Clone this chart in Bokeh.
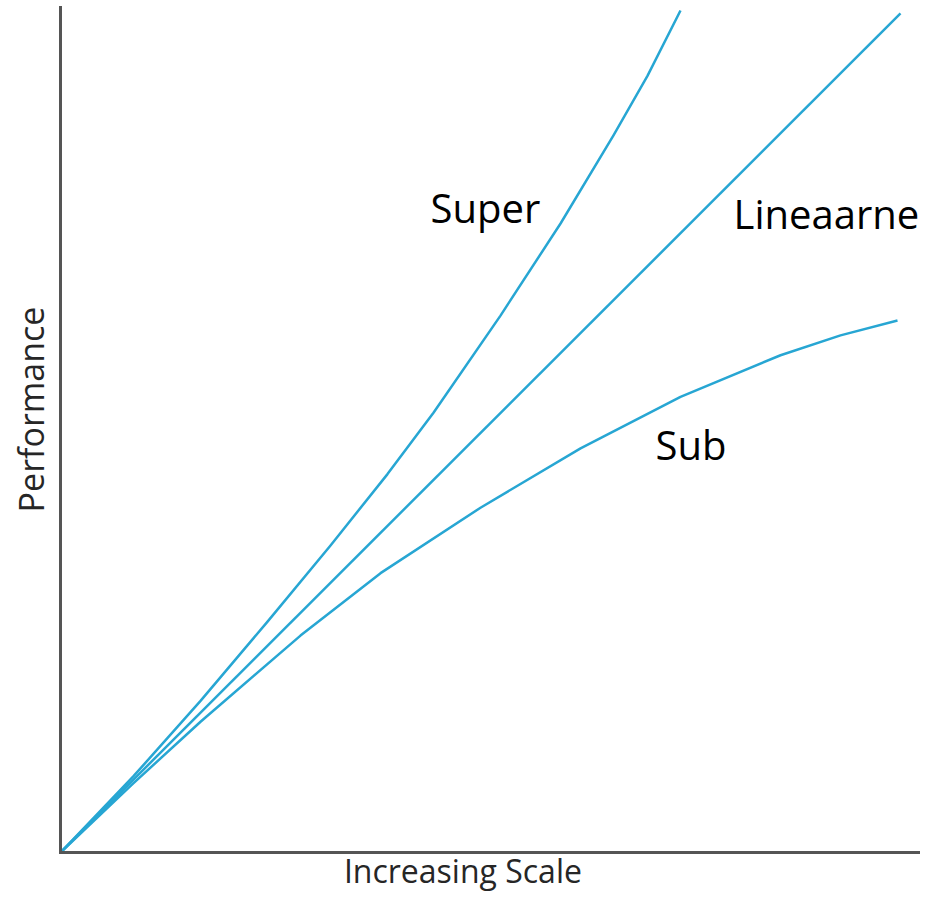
import math
from bokeh.plotting import figure
from bokeh.models import Range1d, Label, FixedTicker
from bokeh.embed import file_html
from bokeh.resources import INLINE

# ---- data ----
linear_x = [0, 97.9]
linear_y = [0, 99.3]

super_x = [0, 8.51, 16.32, 24.13, 31.47, 38.11, 43.47, 51.28, 58.28, 64.45, 68.41, 72.26]
super_y = [0, 9.03, 17.94, 27.32, 36.34, 44.78, 52.05, 63.54, 74.44, 84.88, 91.91, 99.65]

sub_x = [0, 8.51, 16.32, 27.97, 37.30, 48.95, 60.61, 72.26, 83.92, 90.91, 97.55]
sub_y = [0, 8.21, 15.47, 25.67, 33.06, 40.80, 47.83, 53.93, 58.85, 61.20, 62.95]

curve_names = ["Super", "Lineaarne", "Sub"]
x_title = "Increasing Scale"
y_title = "Performance"

LINE_COLOR = "#27A6D3"
AXIS_COLOR = "#555555"
FONT = "Open Sans"

# frame fills the canvas; the axes are pinned at the data origin
p = figure(width=929, height=892, output_backend="svg", toolbar_location=None,
           x_range=Range1d(-6.993, 101.28), y_range=Range1d(-4.734, 100.83),
           min_border_left=0, min_border_right=0, min_border_top=0, min_border_bottom=0)
p.outline_line_color = None
p.xgrid.visible = False
p.ygrid.visible = False
p.background_fill_color = "white"
p.border_fill_color = "white"

for ax in (p.xaxis[0], p.yaxis[0]):
    ax.ticker = FixedTicker(ticks=[])
    ax.major_tick_out = 0
    ax.major_tick_in = 0
    ax.minor_tick_out = 0
    ax.minor_tick_in = 0
    ax.major_label_text_font_size = "0px"
    ax.major_label_standoff = 0
    ax.axis_line_color = AXIS_COLOR
    ax.axis_line_width = 3
    ax.axis_line_cap = "square"
    ax.fixed_location = 0
    ax.bounds = (0, 100)

p.line(super_x, super_y, line_color=LINE_COLOR, line_width=2.5, line_join="round")
p.line(linear_x, linear_y, line_color=LINE_COLOR, line_width=2.5, line_join="round")
p.line(sub_x, sub_y, line_color=LINE_COLOR, line_width=2.5, line_join="round")

label_pos = [(43.12, 76.33), (78.44, 75.62), (69.35, 48.28)]
for name, (lx, ly) in zip(curve_names, label_pos):
    p.add_layout(Label(x=lx, y=ly, text=name, text_font=FONT, text_font_size="40px",
                       text_color="black", text_align="left", text_baseline="middle"))

p.add_layout(Label(x=46.9, y=-2.08, text=x_title, text_font=FONT, text_font_size="32px",
                   text_color="#262626", text_align="center", text_baseline="middle"))
p.add_layout(Label(x=-3.47, y=52.43, text=y_title, text_font=FONT, text_font_size="34px",
                   text_color="#262626", text_align="center", text_baseline="middle",
                   angle=math.pi / 2))

open("out.html", "w").write(file_html(p, INLINE))
